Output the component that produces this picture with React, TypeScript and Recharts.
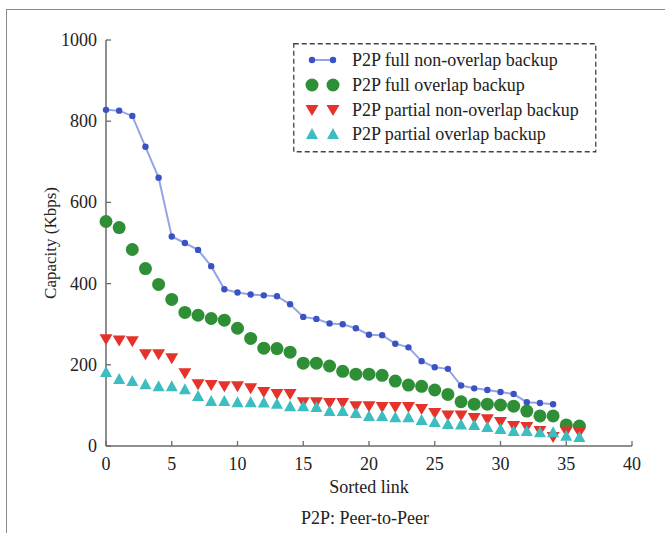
import React from "react";
import { ComposedChart, Line, XAxis, YAxis, Legend } from "recharts";

// sorted link index (0..36)
const links = [
  0, 1, 2, 3, 4, 5, 6, 7, 8, 9, 10, 11, 12, 13, 14, 15, 16, 17, 18, 19, 20,
  21, 22, 23, 24, 25, 26, 27, 28, 29, 30, 31, 32, 33, 34, 35, 36,
];

// capacity in Kbps
const fullNonOverlap = [
  828, 826, 813, 737, 661, 516, 500, 483, 443, 386, 378, 373, 371, 369, 349,
  318, 313, 302, 300, 290, 274, 273, 252, 243, 209, 194, 190, 149, 142, 138,
  133, 128, 108, 106, 103,
];
const fullOverlap = [
  553, 538, 484, 437, 398, 361, 329, 322, 314, 310, 290, 265, 241, 240, 231,
  204, 204, 197, 184, 177, 177, 174, 160, 150, 147, 138, 127, 109, 103, 103,
  101, 98, 86, 74, 74, 52, 49,
];
const partialNonOverlap = [
  263, 260, 258, 226, 226, 216, 179, 152, 150, 147, 147, 142, 133, 128, 128,
  108, 108, 106, 106, 98, 98, 96, 96, 96, 91, 81, 75, 75, 69, 66, 59, 49, 47,
  37, 22, 36, 33,
];
const partialOverlap = [
  182, 165, 160, 152, 147, 147, 140, 123, 111, 111, 108, 108, 107, 104, 98,
  98, 96, 86, 86, 81, 74, 74, 71, 71, 64, 59, 54, 53, 52, 47, 42, 37, 37, 34,
  34, 25, 22,
];

const xTicks = [0, 5, 10, 15, 20, 25, 30, 35, 40];
const yTicks = [0, 200, 400, 600, 800, 1000];

const seriesNames = [
  "P2P full non-overlap backup",
  "P2P full overlap backup",
  "P2P partial non-overlap backup",
  "P2P partial overlap backup",
];

const BLUE_LINE = "#93a5e6";
const BLUE_DOT = "#3a52c2";
const GREEN = "#2e8f36";
const RED = "#e5332b";
const CYAN = "#3cbdc0";
const FONT = "'Liberation Serif', 'Times New Roman', serif";
const AXIS = "#6a6a6a";

const data = links.map((x, i) => ({
  x,
  a: fullNonOverlap[i] ?? null,
  b: fullOverlap[i] ?? null,
  c: partialNonOverlap[i] ?? null,
  d: partialOverlap[i] ?? null,
}));

function Circle({ cx, cy }: { cx: number; cy: number }) {
  return <circle cx={cx} cy={cy} r={6.5} fill={GREEN} />;
}
function TriDown({ cx, cy }: { cx: number; cy: number }) {
  return (
    <polygon
      points={`${cx - 6.5},${cy - 5} ${cx + 6.5},${cy - 5} ${cx},${cy + 6}`}
      fill={RED}
    />
  );
}
function TriUp({ cx, cy }: { cx: number; cy: number }) {
  return (
    <polygon
      points={`${cx - 6},${cy + 5} ${cx + 6},${cy + 5} ${cx},${cy - 6}`}
      fill={CYAN}
    />
  );
}

const makeDot = (kind: string) => (p: any) => {
  const k = `${kind}-${p.index}`;
  if (p.cx == null || p.cy == null || p.value == null) return <g key={k} />;
  if (kind === "a")
    return <circle key={k} cx={p.cx} cy={p.cy} r={3.2} fill={BLUE_DOT} />;
  if (kind === "b") return <Circle key={k} cx={p.cx} cy={p.cy} />;
  if (kind === "c") return <TriDown key={k} cx={p.cx} cy={p.cy} />;
  return <TriUp key={k} cx={p.cx} cy={p.cy} />;
};

function XTick(p: any) {
  const { x, y, payload } = p;
  return (
    <g>
      <line x1={x} y1={y} x2={x} y2={y - 5} stroke={AXIS} strokeWidth={1.3} />
      <text
        x={x}
        y={y + 24}
        textAnchor="middle"
        fontSize={18}
        fontFamily={FONT}
        fill="#222"
      >
        {payload.value}
      </text>
    </g>
  );
}

function YTick(p: any) {
  const { x, y, payload } = p;
  return (
    <g>
      <line x1={x} y1={y} x2={x + 5} y2={y} stroke={AXIS} strokeWidth={1.3} />
      <text
        x={x - 9}
        y={y + 6}
        textAnchor="end"
        fontSize={18}
        fontFamily={FONT}
        fill="#222"
      >
        {payload.value}
      </text>
    </g>
  );
}

function LegendBox() {
  const rowY = [17, 42, 67, 91];
  const marks = [makeDot("a"), makeDot("b"), makeDot("c"), makeDot("d")];
  return (
    <svg width={304} height={110} style={{ display: "block" }}>
      <rect
        x={0.75}
        y={0.75}
        width={302}
        height={108}
        fill="white"
        stroke="#444"
        strokeWidth={1.3}
        strokeDasharray="5 3"
      />
      {seriesNames.map((name, i) => (
        <g key={name}>
          {i === 0 && (
            <line
              x1={19}
              y1={rowY[i]}
              x2={40}
              y2={rowY[i]}
              stroke={BLUE_LINE}
              strokeWidth={2}
            />
          )}
          {marks[i]({ cx: 19, cy: rowY[i], index: `l0${i}`, value: 1 })}
          {marks[i]({ cx: 40, cy: rowY[i], index: `l1${i}`, value: 1 })}
          <text
            x={59}
            y={rowY[i] + 6}
            fontSize={18}
            fontFamily={FONT}
            fill="#222"
          >
            {name}
          </text>
        </g>
      ))}
    </svg>
  );
}

export default function App() {
  return (
    <div
      style={{
        position: "absolute",
        left: 0,
        top: 0,
        width: 665,
        height: 533,
        background: "white",
        overflow: "hidden",
      }}
    >
      <div
        style={{
          position: "absolute",
          left: 6,
          top: 9,
          width: 665,
          height: 530,
          borderTop: "1.5px solid #8a8a8a",
          borderLeft: "1.5px solid #8a8a8a",
        }}
      />
      <ComposedChart
        width={665}
        height={533}
        data={data}
        margin={{ top: 40, right: 33, bottom: 0, left: 0 }}
        style={{ position: "absolute", left: 0, top: 0 }}
      >
        <XAxis
          dataKey="x"
          type="number"
          domain={[0, 40]}
          ticks={xTicks}
          interval={0}
          height={87}
          tickSize={0}
          tickMargin={0}
          tickLine={false}
          tick={(p: any) => <XTick {...p} />}
          stroke={AXIS}
          strokeWidth={1.5}
          label={{
            value: "Sorted link",
            position: "insideBottom",
            offset: 40,
            style: { fontSize: 18, fontFamily: FONT, fill: "#222" },
          }}
        />
        <YAxis
          type="number"
          domain={[0, 1000]}
          ticks={yTicks}
          interval={0}
          width={106}
          tickSize={0}
          tickMargin={0}
          tickLine={false}
          tick={(p: any) => <YTick {...p} />}
          stroke={AXIS}
          strokeWidth={1.5}
          label={{
            value: "Capacity (Kbps)",
            angle: -90,
            position: "insideLeft",
            offset: 50,
            style: {
              fontSize: 17,
              fontFamily: FONT,
              fill: "#222",
              textAnchor: "middle",
            },
          }}
        />
        <Legend
          layout="horizontal"
          verticalAlign="middle"
          align="center"
          content={() => <LegendBox />}
          wrapperStyle={{ position: "absolute", left: 293, top: 43, width: 304 }}
        />
        <Line
          dataKey="a"
          type="linear"
          stroke={BLUE_LINE}
          strokeWidth={2}
          dot={makeDot("a")}
          activeDot={false}
          isAnimationActive={false}
        />
        <Line
          dataKey="b"
          stroke="none"
          dot={makeDot("b")}
          activeDot={false}
          isAnimationActive={false}
        />
        <Line
          dataKey="c"
          stroke="none"
          dot={makeDot("c")}
          activeDot={false}
          isAnimationActive={false}
        />
        <Line
          dataKey="d"
          stroke="none"
          dot={makeDot("d")}
          activeDot={false}
          isAnimationActive={false}
        />
      </ComposedChart>
      <div
        style={{
          position: "absolute",
          left: 300,
          width: 130,
          top: 507,
          textAlign: "center",
          whiteSpace: "nowrap",
          fontSize: 18,
          fontFamily: FONT,
          color: "#222",
          lineHeight: "22px",
        }}
      >
        P2P: Peer-to-Peer
      </div>
    </div>
  );
}
